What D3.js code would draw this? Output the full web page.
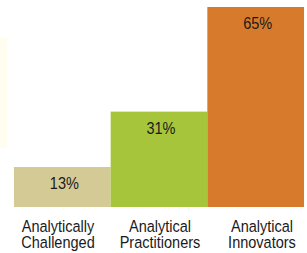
<!DOCTYPE html>
<html>
<head>
<meta charset="utf-8">
<script src="https://cdn.jsdelivr.net/npm/d3@7"></script>
<style>
	html, body { margin: 0; padding: 0; background: #fff; }
	svg { display: block; }
	text { font-family: "Liberation Sans", Arial, sans-serif; fill: #1a1a1a; }
</style>
</head>
<body>
<svg id="chart"></svg>
<script>
// ****** Data
var categories = ['Analytically Challenged', 'Analytical Practitioners', 'Analytical Innovators'];
var labelLines = [['Analytically', 'Challenged'], ['Analytical', 'Practitioners'], ['Analytical', 'Innovators']];
var values = [13, 31, 65];
var valueLabels = ['13%', '31%', '65%'];
var colors = ['#d3ca96', '#a6c53b', '#d87a2b'];

// ****** Layout
var width = 307, height = 253;
var plot = { left: 14, right: 304, top: 7, bottom: 207 };
var narrow = 0.88;	// squeeze the sans so it reads like a condensed face

var svg = d3.select('#chart')
	.attr('width', width)
	.attr('height', height);

// faint cream strip at the left edge of the original
svg.append('rect')
	.attr('x', 0).attr('y', 38)
	.attr('width', 7).attr('height', 110)
	.attr('fill', '#fffdef');

var x = d3.scaleBand()
	.domain(categories)
	.range([plot.left, plot.right])
	.padding(0);

var y = d3.scaleLinear()
	.domain([0, 65])
	.range([plot.bottom, plot.top]);

// category labels sit slightly spread out compared to the bars
var xLabel = d3.scalePoint()
	.domain(categories)
	.range([58, 262]);

// ****** Bars
svg.selectAll('rect.bar')
	.data(values)
	.enter().append('rect')
	.attr('class', 'bar')
	.attr('x', function(d, i) { return x(categories[i]); })
	.attr('y', function(d) { return y(d); })
	.attr('width', x.bandwidth())
	.attr('height', function(d) { return y(0) - y(d); })
	.attr('fill', function(d, i) { return colors[i]; });

// ****** Value labels
svg.selectAll('text.val')
	.data(values)
	.enter().append('text')
	.attr('class', 'val')
	.attr('transform', function(d, i) {
		return 'translate(' + (x(categories[i]) + x.bandwidth() / 2 + 2) + ',' + (y(d) + 22) + ') scale(' + narrow + ',1)';
	})
	.attr('text-anchor', 'middle')
	.style('font-size', '16.5px')
	.text(function(d, i) { return valueLabels[i]; });

// ****** Category labels (one text per line)
categories.forEach(function(c, i) {
	labelLines[i].forEach(function(line, j) {
		svg.append('text')
			.attr('class', 'cat')
			.attr('transform', 'translate(' + xLabel(c) + ',' + (232 + j * 16) + ') scale(' + narrow + ',1)')
			.attr('text-anchor', 'middle')
			.style('font-size', '16.5px')
			.text(line);
	});
});
</script>
</body>
</html>
